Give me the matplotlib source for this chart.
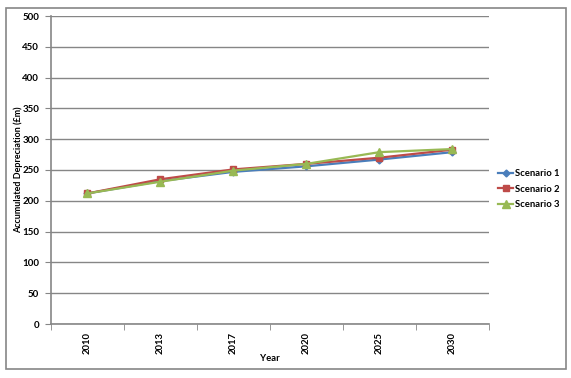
import matplotlib.pyplot as plt
from matplotlib.patches import Rectangle
import numpy as np

plt.rcParams['font.family'] = ['Lato', 'DejaVu Sans']

years = ['2010', '2013', '2017', '2020', '2025', '2030']
scenario_1 = [212, 232, 247, 256, 267, 279]
scenario_2 = [212, 235, 251, 260, 270, 283]
scenario_3 = [212, 231, 249, 260, 279, 284]
names = ['Scenario 1', 'Scenario 2', 'Scenario 3']
colors = ['#4A7EBB', '#BE4B48', '#98B954']
markers = ['D', 's', '^']
msizes = [3.5, 5, 5.5]

grey = '#868686'
fig = plt.figure(figsize=(5.71, 3.78), dpi=100)
fig.patches.append(Rectangle((6 / 571, 1 - 369 / 378), 560 / 571, 361 / 378,
                             transform=fig.transFigure, fill=False,
                             edgecolor=grey, lw=1.2))
ax = fig.add_axes([51 / 571, 1 - 324 / 378, 438 / 571, 308 / 378])

x = np.arange(len(years))
for vals, name, c, m, ms in zip([scenario_1, scenario_2, scenario_3], names, colors, markers, msizes):
    ax.plot(x, vals, color=c, marker=m, markersize=ms, lw=1.6, label=name)

ax.set_xlim(-0.5, len(years) - 0.5)
ax.set_ylim(0, 500)
ax.set_yticks(range(0, 501, 50))
ax.grid(axis='y', color=grey, lw=1)
ax.set_axisbelow(True)
ax.set_xticks(x)
ax.set_xticklabels(years, rotation=90, fontsize=6.8, fontweight='bold')
ax.set_xticks(np.arange(-0.5, len(years), 1), minor=True)
ax.tick_params(axis='x', which='major', length=0, pad=6)
ax.tick_params(axis='x', which='minor', length=4, color=grey, direction='out')
ax.tick_params(axis='y', length=4, color=grey, labelsize=7, pad=4.5)
for lab in ax.get_yticklabels():
    lab.set_fontweight('bold')
for s in ['top', 'right']:
    ax.spines[s].set_visible(False)
for s in ['left', 'bottom']:
    ax.spines[s].set_color(grey)
    ax.spines[s].set_linewidth(1.2)

ax.set_xlabel('Year', fontsize=6.8, fontweight='bold')
ax.xaxis.set_label_coords(0.5, -0.097)
ax.set_ylabel('Accumulated Depreciation (£m)', fontsize=6.5, fontweight='bold')
ax.yaxis.set_label_coords(-0.064, 0.5)

ax.legend(loc='center left', bbox_to_anchor=(498 / 571, 1 - 189 / 378),
          bbox_transform=fig.transFigure, frameon=False, borderpad=0,
          borderaxespad=0, handlelength=1.6, labelspacing=0.7, handletextpad=0.2,
          prop={'weight': 'bold', 'size': 6.8})

fig.savefig('out.png', dpi=100)
